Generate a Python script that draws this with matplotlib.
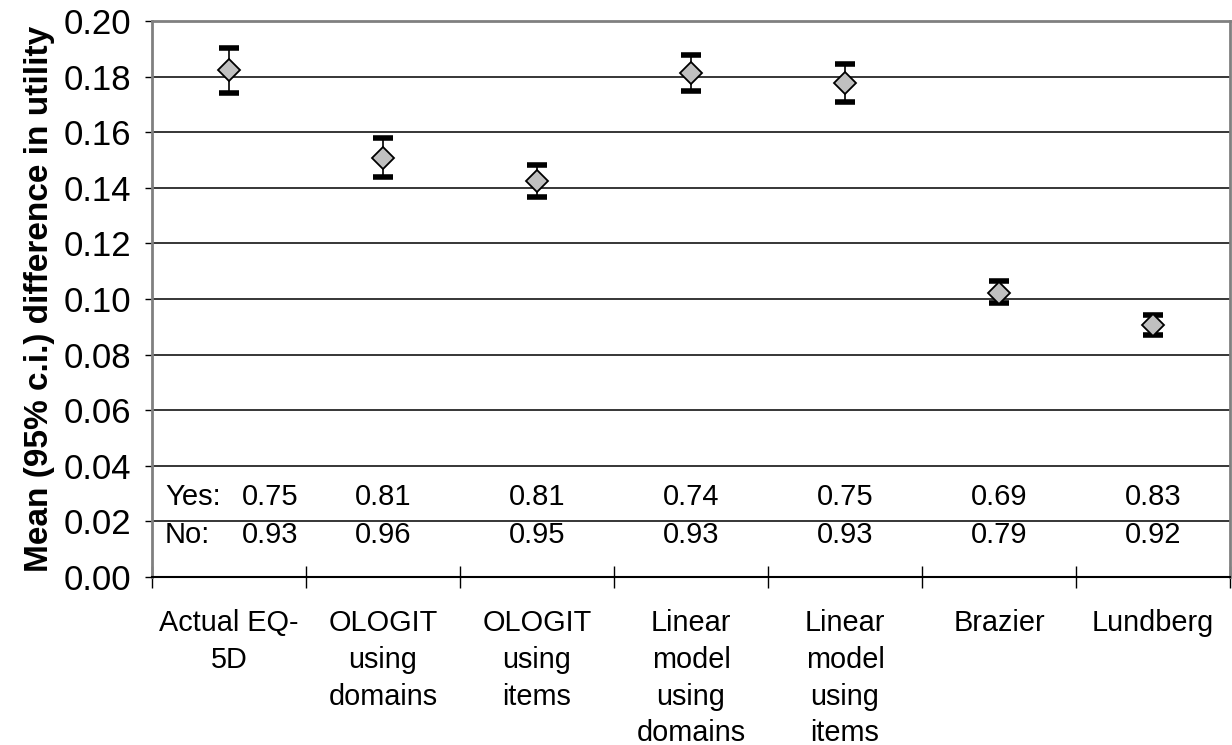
import numpy as np
import matplotlib.pyplot as plt

plt.rcParams['font.family'] = ['Liberation Sans', 'DejaVu Sans']

labels = ['Actual EQ-\n5D', 'OLOGIT\nusing\ndomains', 'OLOGIT\nusing\nitems',
          'Linear\nmodel\nusing\ndomains', 'Linear\nmodel\nusing\nitems',
          'Brazier', 'Lundberg']
means = [0.1824, 0.1508, 0.1425, 0.1813, 0.1777, 0.1023, 0.0905]
lower = [0.1741, 0.1440, 0.1368, 0.1749, 0.1709, 0.0984, 0.0869]
upper = [0.1903, 0.1580, 0.1483, 0.1878, 0.1846, 0.1063, 0.0944]
yes_vals = ['0.75', '0.81', '0.81', '0.74', '0.75', '0.69', '0.83']
no_vals = ['0.93', '0.96', '0.95', '0.93', '0.93', '0.79', '0.92']

x = np.arange(len(labels))
means = np.array(means)
err = [means - np.array(lower), np.array(upper) - means]

fig = plt.figure(figsize=(12.32, 7.45), dpi=100)
ax = fig.add_axes([0.1234, 0.2255, 0.8750, 0.7463])

for yv in np.arange(0.02, 0.201, 0.02):
    ax.axhline(yv, color='black', lw=1.1, zorder=1)

line, caps, bars = ax.errorbar(x, means, yerr=err, fmt='D', ms=11, mfc='#c0c0c0',
                               mec='black', mew=1.3, ecolor='black',
                               elinewidth=1.2, capsize=7.5, zorder=3)
for c in caps:
    c.set_markeredgewidth(4)

ax.set_xlim(-0.5, 6.5)
ax.set_ylim(0, 0.2)
ax.set_yticks(np.arange(0, 0.201, 0.02))
ax.set_yticklabels(['%.2f' % v for v in np.arange(0, 0.201, 0.02)], fontsize=25)
ax.tick_params(axis='y', direction='out', length=5, width=1, pad=10)

ax.set_xticks(np.arange(-0.5, 6.6, 1))
ax.set_xticklabels([])
ax.tick_params(axis='x', which='major', direction='inout', length=16, width=1)
ax.set_xticks(x, minor=True)
ax.set_xticklabels(labels, minor=True, fontsize=20.8, linespacing=1.4, va='top')
ax.tick_params(axis='x', which='minor', length=0, pad=23)

for s in ['left', 'top', 'right']:
    ax.spines[s].set_color('#808080')
    ax.spines[s].set_linewidth(2)
ax.spines['bottom'].set_color('black')
ax.spines['bottom'].set_linewidth(1.5)

ax.set_ylabel('Mean (95% c.i.) difference in utility', fontsize=24,
              fontweight='bold', labelpad=6)

ax.text(0.012, 0.0287, 'Yes:', transform=ax.get_yaxis_transform(),
        fontsize=21, va='center', ha='left')
ax.text(0.012, 0.0151, 'No:', transform=ax.get_yaxis_transform(),
        fontsize=21, va='center', ha='left')
for i in range(len(labels)):
    xi = 0.27 if i == 0 else i
    ax.text(xi, 0.0287, yes_vals[i], fontsize=21, va='center', ha='center')
    ax.text(xi, 0.0151, no_vals[i], fontsize=21, va='center', ha='center')

fig.savefig('out.png', dpi=100)
